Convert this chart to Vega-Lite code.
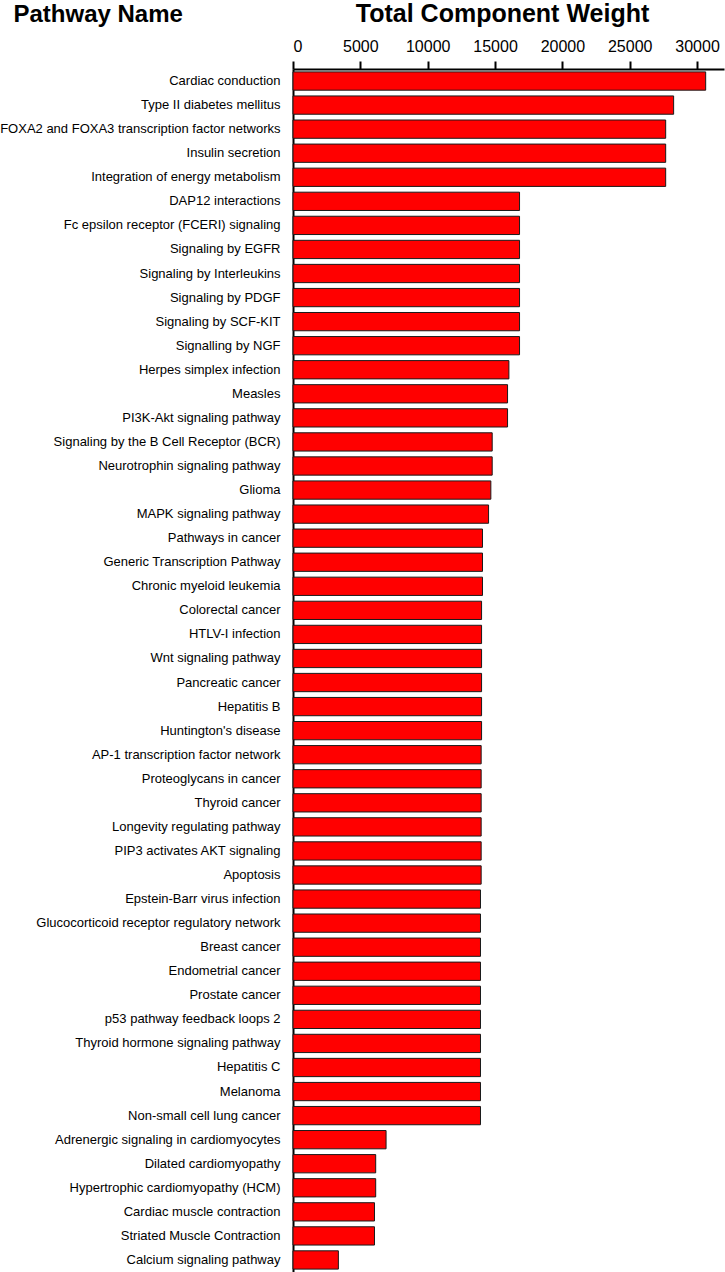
{
  "$schema": "https://vega.github.io/schema/vega-lite/v6.json",
  "autosize": "none",
  "padding": {"left": 293, "top": 69, "right": 1, "bottom": 0},
  "width": 431,
  "height": 1203,
  "background": "white",
  "config": {"view": {"stroke": null}, "font": "Liberation Sans"},
  "data": {"values": [
    {"pathway": "Cardiac conduction", "weight": 30640},
    {"pathway": "Type II diabetes mellitus", "weight": 28260},
    {"pathway": "FOXA2 and FOXA3 transcription factor networks", "weight": 27670},
    {"pathway": "Insulin secretion", "weight": 27670},
    {"pathway": "Integration of energy metabolism", "weight": 27670},
    {"pathway": "DAP12 interactions", "weight": 16820},
    {"pathway": "Fc epsilon receptor (FCERI) signaling", "weight": 16820},
    {"pathway": "Signaling by EGFR", "weight": 16820},
    {"pathway": "Signaling by Interleukins", "weight": 16820},
    {"pathway": "Signaling by PDGF", "weight": 16820},
    {"pathway": "Signaling by SCF-KIT", "weight": 16820},
    {"pathway": "Signalling by NGF", "weight": 16820},
    {"pathway": "Herpes simplex infection", "weight": 16030},
    {"pathway": "Measles", "weight": 15930},
    {"pathway": "PI3K-Akt signaling pathway", "weight": 15930},
    {"pathway": "Signaling by the B Cell Receptor (BCR)", "weight": 14790},
    {"pathway": "Neurotrophin signaling pathway", "weight": 14790},
    {"pathway": "Glioma", "weight": 14690},
    {"pathway": "MAPK signaling pathway", "weight": 14520},
    {"pathway": "Pathways in cancer", "weight": 14070},
    {"pathway": "Generic Transcription Pathway", "weight": 14070},
    {"pathway": "Chronic myeloid leukemia", "weight": 14070},
    {"pathway": "Colorectal cancer", "weight": 14000},
    {"pathway": "HTLV-I infection", "weight": 14000},
    {"pathway": "Wnt signaling pathway", "weight": 14000},
    {"pathway": "Pancreatic cancer", "weight": 14000},
    {"pathway": "Hepatitis B", "weight": 14000},
    {"pathway": "Huntington's disease", "weight": 14000},
    {"pathway": "AP-1 transcription factor network", "weight": 13970},
    {"pathway": "Proteoglycans in cancer", "weight": 13970},
    {"pathway": "Thyroid cancer", "weight": 13970},
    {"pathway": "Longevity regulating pathway", "weight": 13970},
    {"pathway": "PIP3 activates AKT signaling", "weight": 13970},
    {"pathway": "Apoptosis", "weight": 13970},
    {"pathway": "Epstein-Barr virus infection", "weight": 13920},
    {"pathway": "Glucocorticoid receptor regulatory network", "weight": 13920},
    {"pathway": "Breast cancer", "weight": 13920},
    {"pathway": "Endometrial cancer", "weight": 13920},
    {"pathway": "Prostate cancer", "weight": 13920},
    {"pathway": "p53 pathway feedback loops 2", "weight": 13920},
    {"pathway": "Thyroid hormone signaling pathway", "weight": 13920},
    {"pathway": "Hepatitis C", "weight": 13920},
    {"pathway": "Melanoma", "weight": 13920},
    {"pathway": "Non-small cell lung cancer", "weight": 13920},
    {"pathway": "Adrenergic signaling in cardiomyocytes", "weight": 6910},
    {"pathway": "Dilated cardiomyopathy", "weight": 6140},
    {"pathway": "Hypertrophic cardiomyopathy (HCM)", "weight": 6140},
    {"pathway": "Cardiac muscle contraction", "weight": 6050},
    {"pathway": "Striated Muscle Contraction", "weight": 6050},
    {"pathway": "Calcium signaling pathway", "weight": 3370}
  ]},
  "mark": {"type": "bar", "fill": "#ff0000", "stroke": "#1a1a1a", "strokeWidth": 1},
  "encoding": {
    "y": {
      "field": "pathway", "type": "nominal", "sort": null,
      "scale": {"paddingInner": 0.24, "paddingOuter": 0.12},
      "axis": {
        "title": "Pathway Name",
        "titleFont": "Liberation Sans", "titleFontSize": 24, "titleFontWeight": "bold", "titleColor": "#000",
        "titleAngle": 0, "titleAlign": "left", "titleBaseline": "alphabetic",
        "titleX": -280, "titleY": -48,
        "ticks": false, "labelPadding": 13, "labelFontSize": 13, "labelColor": "#000",
        "labelFont": "Liberation Sans", "labelLimit": 400,
        "domainColor": "#000", "domainWidth": 2
      }
    },
    "x": {
      "field": "weight", "type": "quantitative",
      "scale": {"domain": [0, 32000], "nice": false},
      "axis": {
        "orient": "top",
        "title": "Total Component Weight",
        "titleFont": "Liberation Sans", "titleFontSize": 25, "titleFontWeight": "bold", "titleColor": "#000",
        "titleBaseline": "alphabetic", "titleX": 209, "titleY": -48,
        "values": [0, 5000, 10000, 15000, 20000, 25000, 30000],
        "format": "d", "grid": false,
        "tickSize": 8, "tickWidth": 2, "tickColor": "#000",
        "labelPadding": 7, "labelFontSize": 16, "labelColor": "#000", "labelFont": "Liberation Sans",
        "domainColor": "#000", "domainWidth": 2
      }
    }
  }
}
